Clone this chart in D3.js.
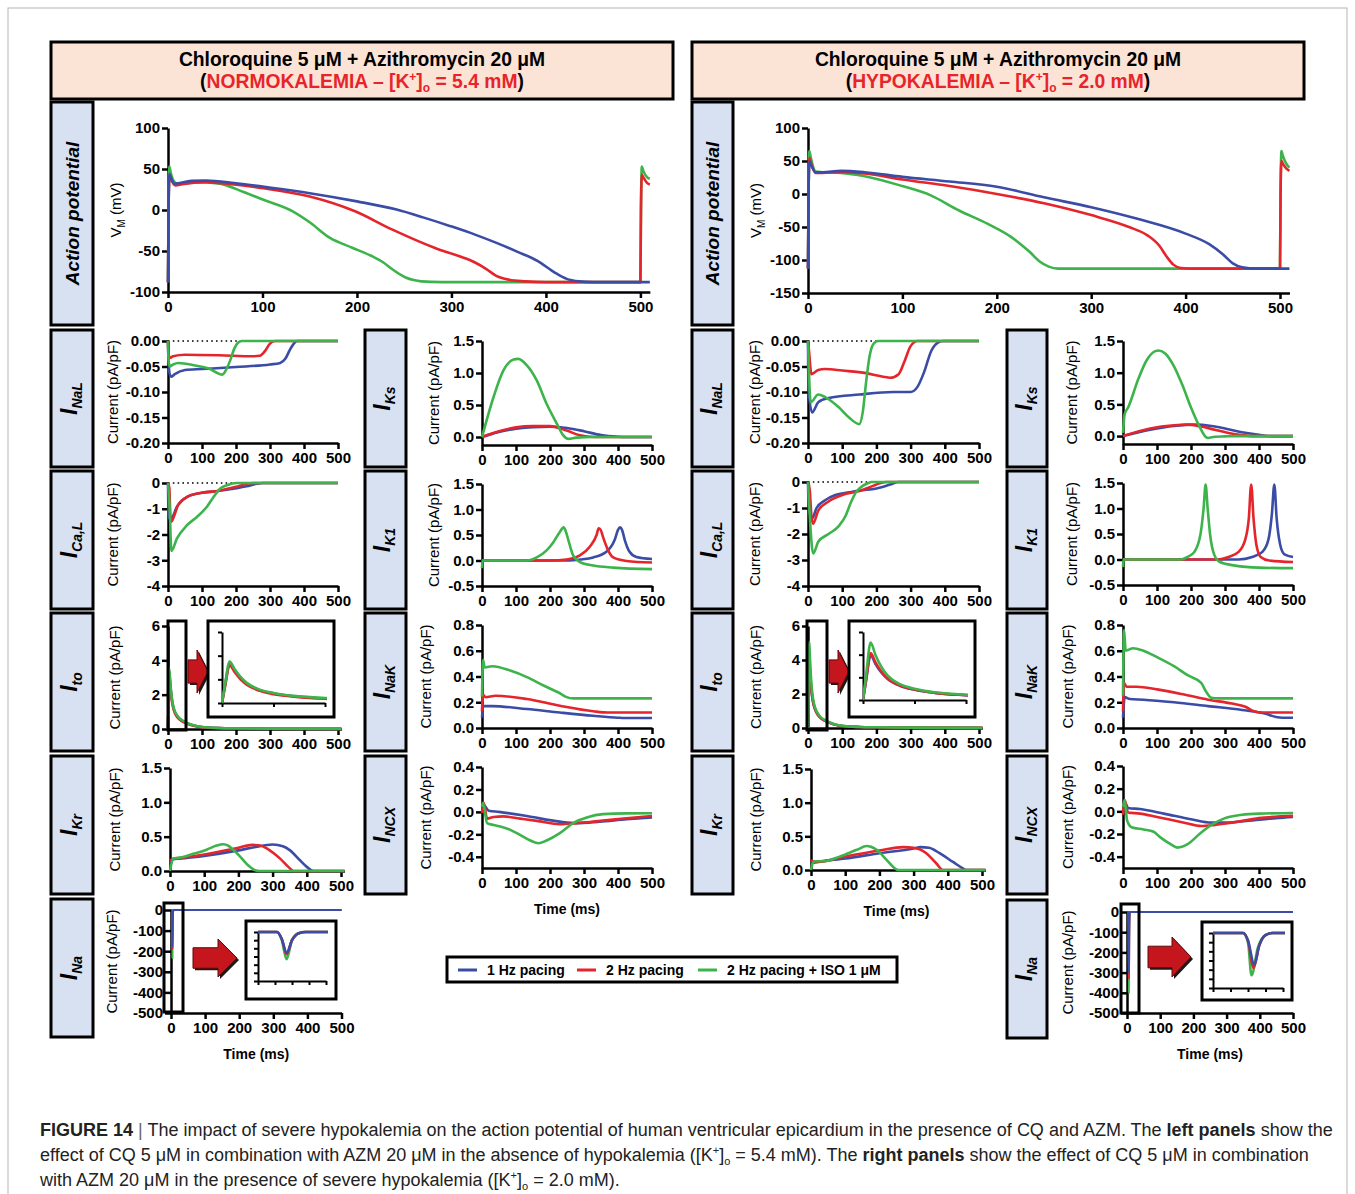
<!DOCTYPE html>
<html>
<head>
<meta charset="utf-8">
<script src="https://cdn.jsdelivr.net/npm/d3@7"></script>
<style>
body { margin: 0; background: #fff; }
svg text { font-family: "Liberation Sans", Arial, Helvetica, sans-serif; }
</style>
</head>
<body>
<div id="viz"></div>
<script>
// series: 1 Hz pacing, 2 Hz pacing, 2 Hz pacing + ISO 1 uM
var seriesNames = ["1 Hz pacing", "2 Hz pacing", "2 Hz pacing + ISO 1 μM"];
var colors = ["#3a4ca6", "#e4252b", "#3cb44b"];
var xTicks = [0, 100, 200, 300, 400, 500];

// ---------- NORMOKALEMIA ([K+]o = 5.4 mM) ----------
var apNorm = [
  [[0,-88],[0.6,0],[1.5,44],[3,40],[7,32],[12,33],[25,35.5],[40,36],[70,33],[100,28.5],[150,20.5],[200,10.5],[242,0.5],[270,-9],[299,-19.7],[325,-30],[347,-39.8],[370,-51],[391,-62],[409,-76],[422,-84],[435,-87],[450,-88],[510,-88]],
  [[0,-88],[0.6,0],[1.5,43],[3,38],[8,30],[15,31.5],[40,34],[70,31],[101,26.5],[150,16.5],[198,-1.6],[237,-23.7],[286,-47.8],[310,-57],[325,-64],[337,-72],[347,-80],[361,-85],[378,-87],[400,-88],[500,-88],[500.6,0],[501.5,43],[503,40],[507,33],[510,31]],
  [[0,-88],[0.6,0],[1.5,53],[3,45],[8,33],[12,32],[30,34],[53,32.5],[80,22],[101,12.5],[132,-1.6],[150,-15],[171,-33.7],[195,-46],[215,-55.8],[228,-64],[237,-72],[251,-82],[260,-85.5],[268,-87],[290,-88],[500,-88],[500.6,0],[501.5,53],[503,48],[507,40],[510,38]]
];
var iNaLNorm = [
  [[0,0],[1,-0.03],[5,-0.065],[10,-0.07],[20,-0.065],[50,-0.057],[100,-0.055],[200,-0.051],[300,-0.046],[330,-0.043],[345,-0.035],[358,-0.018],[370,-0.005],[380,0],[500,0]],
  [[0,0],[1,-0.02],[5,-0.033],[15,-0.03],[50,-0.027],[150,-0.028],[250,-0.03],[270,-0.029],[285,-0.02],[300,-0.005],[315,0],[500,0]],
  [[0,0],[1,-0.03],[5,-0.05],[15,-0.046],[30,-0.043],[80,-0.048],[120,-0.054],[160,-0.066],[172,-0.055],[183,-0.038],[195,-0.015],[205,-0.004],[217,0],[500,0]]
];
var iCaLNorm = [
  [[0,0],[1.5,-1.2],[5,-1.4],[10,-1.38],[26,-0.93],[56,-0.54],[95,-0.39],[144,-0.32],[192,-0.22],[231,-0.13],[261,-0.03],[280,0],[500,0]],
  [[0,0],[4,-0.2],[7,-1.3],[10,-1.5],[17,-1.32],[30,-0.85],[60,-0.52],[100,-0.38],[150,-0.3],[200,-0.15],[230,-0.04],[250,0],[500,0]],
  [[0,0],[5,-1],[10,-2.64],[26,-2.16],[56,-1.64],[85,-1.32],[114,-0.93],[134,-0.54],[153,-0.22],[173,-0.09],[202,0],[500,0]]
];
var iToNorm = [
  [[0,0],[1.5,1.5],[3.7,3.35],[6,2.8],[9,2.15],[12,1.65],[18,1.1],[25,0.8],[35,0.57],[50,0.38],[75,0.2],[100,0.11],[150,0.05],[200,0.03],[300,0.015],[510,0.01]],
  [[0,0],[1.5,1.4],[3.7,3.2],[6,2.65],[9,2.0],[12,1.55],[18,1.05],[25,0.75],[35,0.54],[50,0.36],[75,0.19],[100,0.1],[150,0.05],[200,0.03],[300,0.015],[510,0.01]],
  [[0,0],[1.5,1.6],[3.7,3.5],[6,2.9],[9,2.2],[12,1.7],[18,1.15],[25,0.85],[35,0.6],[50,0.42],[75,0.22],[100,0.12],[150,0.06],[200,0.04],[300,0.02],[510,0.01]]
];
var iKrNorm = [
  [[0,0.12],[10,0.17],[29,0.18],[100,0.22],[200,0.3],[250,0.35],[300,0.385],[330,0.36],[351,0.3],[380,0.156],[400,0.06],[419,0],[510,0]],
  [[0,0.15],[10,0.18],[29,0.19],[100,0.24],[200,0.34],[240,0.38],[260,0.375],[283,0.33],[305,0.25],[322,0.18],[346,0.06],[361,0],[510,0]],
  [[0,0],[3,0.08],[10,0.18],[29,0.195],[68,0.25],[107,0.31],[136,0.37],[156,0.39],[170,0.37],[180,0.33],[205,0.21],[229,0.08],[249,0.01],[260,0],[510,0]]
];
var iNaNorm = [
  [[0,0],[2.8,0],[3.5,-60],[4.2,-180],[5,-70],[6,-10],[7,0],[500,0]],
  [[0,0],[2.8,0],[3.5,-60],[4.2,-190],[5,-70],[6,-10],[7,0],[500,0]],
  [[0,0],[2.8,0],[3.5,-70],[4.2,-234],[5,-70],[6,-10],[7,0],[500,0]]
];
var iKsNorm = [
  [[0,0],[50,0.08],[100,0.13],[150,0.155],[200,0.16],[250,0.14],[300,0.09],[350,0.03],[400,0.005],[430,0],[500,0]],
  [[0,0],[50,0.09],[100,0.15],[150,0.17],[200,0.17],[249,0.1],[288,0.026],[330,0],[500,0]],
  [[0,0],[34,0.625],[63,1.04],[93,1.21],[107,1.22],[132,1.12],[161,0.885],[190,0.52],[220,0.21],[239,0.026],[254,-0.03],[278,-0.01],[327,0],[500,0]]
];
var iK1Norm = [
  [[0,0],[250,0],[290,0.02],[327,0.06],[366,0.17],[390,0.4],[400,0.6],[406,0.65],[412,0.6],[420,0.4],[434,0.17],[454,0.07],[500,0.03]],
  [[0,0],[200,0],[249,0.02],[288,0.1],[317,0.27],[337,0.5],[343,0.63],[349,0.6],[356,0.46],[371,0.2],[386,0.06],[425,-0.01],[500,-0.04]],
  [[0,-0.15],[1,0],[132,0],[161,0.06],[190,0.2],[210,0.36],[229,0.56],[240,0.65],[246,0.58],[254,0.4],[268,0.1],[288,-0.03],[327,-0.1],[386,-0.14],[500,-0.17]]
];
var iNaKNorm = [
  [[0,0.08],[3,0.17],[30,0.17],[132,0.147],[229,0.12],[327,0.095],[400,0.08],[420,0.078],[500,0.078]],
  [[0,0.13],[3,0.26],[10,0.24],[40,0.25],[132,0.225],[229,0.173],[327,0.13],[370,0.12],[500,0.12]],
  [[0,0.245],[3,0.53],[8,0.47],[30,0.48],[83,0.446],[132,0.395],[181,0.33],[229,0.27],[249,0.24],[268,0.23],[500,0.23]]
];
var iNCXNorm = [
  [[0,0],[5,0.06],[20,0.01],[50,0],[132,-0.037],[229,-0.087],[278,-0.1],[346,-0.087],[425,-0.066],[500,-0.05]],
  [[0,-0.01],[5,0.08],[15,-0.06],[34,-0.045],[63,-0.04],[112,-0.06],[161,-0.08],[229,-0.11],[278,-0.1],[327,-0.087],[425,-0.057],[500,-0.037]],
  [[0,0.046],[3,0.08],[15,-0.1],[34,-0.117],[54,-0.13],[83,-0.16],[112,-0.205],[142,-0.255],[166,-0.28],[190,-0.255],[229,-0.19],[268,-0.1],[308,-0.05],[356,-0.02],[425,-0.013],[500,-0.012]]
];

// ---------- HYPOKALEMIA ([K+]o = 2.0 mM) ----------
var apHypo = [
  [[0,-113],[0.6,0],[1.5,50],[3,45],[8,33],[15,33],[35,35],[60,33],[100,26],[150,19],[200,11],[250,-5],[300,-20],[350,-38],[400,-60],[425,-76],[440,-92],[450,-105],[460,-111],[475,-113],[510,-113]],
  [[0,-113],[0.6,0],[1.5,55],[3,48],[8,32],[15,32],[35,33],[60,31],[100,22],[150,12],[200,0],[250,-14],[300,-32],[340,-50],[360,-63],[372,-78],[380,-95],[387,-107],[395,-112],[410,-113],[500,-113],[500.6,0],[501.5,50],[503,46],[507,38],[510,35]],
  [[0,-113],[0.6,0],[1.5,65],[3,55],[8,34],[15,33],[35,32],[60,27],[100,12],[130,-2],[160,-25],[190,-45],[215,-65],[235,-88],[245,-102],[255,-110],[265,-113],[500,-113],[500.6,0],[501.5,65],[503,58],[507,45],[510,40]]
];
var iNaLHypo = [
  [[0,0],[1,-0.09],[12,-0.14],[30,-0.12],[60,-0.112],[150,-0.105],[250,-0.1],[300,-0.1],[320,-0.09],[340,-0.06],[360,-0.02],[380,-0.003],[395,0],[500,0]],
  [[0,0],[3,-0.02],[10,-0.065],[30,-0.057],[50,-0.055],[100,-0.058],[170,-0.063],[220,-0.07],[240,-0.072],[265,-0.065],[282,-0.04],[300,-0.01],[320,0],[500,0]],
  [[0,0],[8,-0.12],[30,-0.105],[50,-0.11],[90,-0.13],[120,-0.15],[150,-0.163],[160,-0.14],[170,-0.08],[180,-0.03],[192,-0.005],[205,0],[500,0]]
];
var iCaLHypo = [
  [[0,0],[2,-1.0],[12,-1.4],[25,-1.0],[50,-0.7],[80,-0.5],[120,-0.4],[150,-0.33],[200,-0.25],[240,-0.1],[265,0],[500,0]],
  [[0,0],[5,-0.3],[10,-1.3],[15,-1.6],[30,-1.1],[60,-0.75],[100,-0.5],[150,-0.35],[190,-0.15],[210,-0.05],[230,0],[500,0]],
  [[0,0],[6,-1.5],[15,-2.75],[30,-2.3],[60,-2.0],[90,-1.7],[110,-1.3],[125,-0.8],[140,-0.4],[160,-0.15],[175,-0.05],[185,0],[500,0]]
];
var iToHypo = [
  [[0,0],[1.5,1.7],[3.7,3.95],[6,3.2],[9,2.4],[12,1.85],[18,1.25],[25,0.9],[35,0.62],[50,0.42],[75,0.22],[100,0.12],[150,0.06],[200,0.04],[300,0.02],[510,0.01]],
  [[0,0],[1.5,1.8],[3.7,4.15],[6,3.35],[9,2.5],[12,1.9],[18,1.28],[25,0.92],[35,0.63],[50,0.43],[75,0.22],[100,0.12],[150,0.06],[200,0.04],[300,0.02],[510,0.01]],
  [[0,0],[1.5,2.2],[3.7,5.06],[6,4.0],[9,2.9],[12,2.15],[18,1.4],[25,1.0],[35,0.68],[50,0.46],[75,0.24],[100,0.13],[150,0.06],[200,0.04],[300,0.02],[510,0.01]]
];
var iKrHypo = [
  [[0,0.1],[20,0.12],[100,0.17],[200,0.25],[300,0.32],[320,0.34],[345,0.33],[376,0.25],[415,0.12],[444,0.025],[453,0],[510,0]],
  [[0,0.15],[5,0.13],[20,0.12],[100,0.2],[200,0.29],[270,0.34],[300,0.33],[337,0.25],[366,0.1],[386,0],[510,0]],
  [[0,0],[5,0.1],[10,0.13],[37,0.13],[85,0.2],[134,0.3],[163,0.356],[175,0.345],[192,0.3],[221,0.15],[245,0.025],[255,0],[510,0]]
];
var iNaHypo = [
  [[0,0],[4.3,0],[5,-70],[5.9,-300],[6.6,-120],[7.5,-20],[8.5,0],[500,0]],
  [[0,0],[4.3,0],[5,-75],[5.8,-330],[6.6,-120],[7.5,-20],[8.5,0],[500,0]],
  [[0,0],[4.3,0],[5,-90],[5.5,-400],[6.4,-140],[7.5,-20],[8.5,0],[500,0]]
];
var iKsHypo = [
  [[0,0],[80,0.1],[150,0.16],[210,0.18],[260,0.16],[300,0.12],[350,0.06],[400,0.02],[440,0],[500,0]],
  [[0,0],[80,0.12],[150,0.17],[190,0.18],[230,0.15],[270,0.1],[310,0.05],[350,0.015],[380,0],[500,0]],
  [[0,0.05],[5,0.35],[15,0.45],[45,0.9],[70,1.2],[95,1.34],[105,1.35],[125,1.3],[150,1.1],[175,0.8],[200,0.45],[225,0.15],[245,-0.02],[250,-0.03],[270,-0.01],[300,-0.005],[330,0],[500,0]]
];
var iK1Hypo = [
  [[0,0],[340,0],[380,0.05],[410,0.15],[428,0.4],[438,0.9],[445,1.47],[452,0.8],[462,0.3],[475,0.1],[500,0.05]],
  [[0,0],[280,0],[310,0.05],[340,0.15],[360,0.4],[370,0.8],[377,1.47],[384,0.8],[392,0.3],[405,0.05],[430,-0.02],[500,-0.05]],
  [[0,-0.15],[1,0],[170,0],[190,0.05],[210,0.15],[228,0.5],[237,1.0],[243,1.47],[249,1.0],[256,0.5],[268,0.1],[285,-0.05],[330,-0.12],[400,-0.16],[500,-0.17]]
];
var iNaKHypo = [
  [[0,0.08],[5,0.24],[20,0.225],[60,0.22],[150,0.2],[250,0.17],[350,0.14],[420,0.11],[450,0.085],[470,0.08],[500,0.08]],
  [[0,0.13],[3,0.35],[10,0.32],[40,0.32],[100,0.3],[180,0.26],[250,0.22],[320,0.19],[360,0.165],[385,0.13],[410,0.12],[500,0.12]],
  [[0,0.25],[3,0.76],[8,0.6],[30,0.62],[60,0.6],[100,0.55],[150,0.48],[190,0.41],[230,0.35],[245,0.28],[260,0.235],[280,0.23],[500,0.23]]
];
var iNCXHypo = [
  [[0,0],[5,0.08],[15,0.03],[50,0.02],[120,-0.02],[200,-0.07],[260,-0.1],[300,-0.1],[380,-0.08],[450,-0.06],[500,-0.05]],
  [[0,-0.03],[5,0.1],[15,-0.01],[50,-0.02],[100,-0.05],[180,-0.1],[230,-0.13],[270,-0.12],[320,-0.1],[400,-0.06],[500,-0.04]],
  [[0,0.04],[5,0.1],[12,-0.08],[25,-0.14],[60,-0.16],[90,-0.18],[110,-0.23],[140,-0.29],[160,-0.32],[190,-0.29],[225,-0.2],[260,-0.12],[300,-0.06],[350,-0.03],[400,-0.02],[500,-0.015]]
];

// tick values
var apTicksNorm = [-100, -50, 0, 50, 100];
var apTicksHypo = [-150, -100, -50, 0, 50, 100];
var iNaLTicks = [-0.2, -0.15, -0.1, -0.05, 0];
var iCaLTicks = [-4, -3, -2, -1, 0];
var iToTicks = [0, 2, 4, 6];
var iKTicks = [0, 0.5, 1, 1.5];
var iK1Ticks = [-0.5, 0, 0.5, 1, 1.5];
var iNaKTicks = [0, 0.2, 0.4, 0.6, 0.8];
var iNCXTicks = [-0.4, -0.2, 0, 0.2, 0.4];
var iNaTicks = [-500, -400, -300, -200, -100, 0];

var f0 = function(d) { return d.toFixed(0); };
var f1 = function(d) { return d.toFixed(1); };
var f2 = function(d) { return d.toFixed(2); };

var svg = d3.select("#viz").append("svg")
  .attr("width", 1355).attr("height", 1194)
  .style("background", "#fff");

// outer frame
svg.append("rect").attr("x", 8).attr("y", 8).attr("width", 1339).attr("height", 1220)
  .style("fill", "none").style("stroke", "#b5b5b5").style("stroke-width", 1);

var clipId = 0;

function styleAxis(g, size) {
  g.select(".domain").style("stroke", "#000").style("stroke-width", 2.5);
  g.selectAll(".tick line").style("stroke", "#000").style("stroke-width", 2.5);
  g.selectAll(".tick text").style("font-size", (size || 15) + "px").style("font-weight", "bold").style("fill", "#000");
}

function panel(o) {
  var g = svg.append("g");
  var xmax = o.xmax || 500;
  var x = d3.scaleLinear().domain([0, xmax]).range([o.x0, o.x0 + (o.x500 - o.x0) * xmax / 500]);
  var y = d3.scaleLinear().domain(o.ydom).range([o.yb, o.yt]);

  if (o.dots) {
    g.append("line").attr("x1", x(0)).attr("x2", x(500)).attr("y1", y(0)).attr("y2", y(0))
      .style("stroke", "#000").style("stroke-width", 1.6).style("stroke-dasharray", "1.6,3.2");
  }

  var gy = g.append("g").attr("transform", "translate(" + o.x0 + ",0)")
    .call(d3.axisLeft(y).tickValues(o.yticks).tickFormat(o.fmt).tickSize(6).tickSizeOuter(0).tickPadding(2));
  styleAxis(gy);
  var gx = g.append("g").attr("transform", "translate(0," + o.yb + ")")
    .call(d3.axisBottom(x).tickValues(xTicks).tickFormat(f0).tickSize(6).tickSizeOuter(0).tickPadding(3));
  styleAxis(gx);

  var line = d3.line().x(function(d) { return x(d[0]); }).y(function(d) { return y(d[1]); })
    .curve(d3.curveMonotoneX);
  (o.order || [0, 1, 2]).forEach(function(i) {
    g.append("path").datum(o.data[i]).attr("d", line)
      .style("fill", "none").style("stroke", colors[i])
      .style("stroke-width", o.lw || 2.6).style("stroke-linejoin", "round");
  });

  // y label
  var t = g.append("text")
    .attr("transform", "translate(" + o.lx + "," + ((o.yt + o.yb) / 2) + ") rotate(-90)")
    .attr("text-anchor", "middle").attr("dy", "0.35em")
    .style("font-size", "15px");
  if (o.vm) {
    t.append("tspan").text("V");
    t.append("tspan").attr("dy", 4).style("font-size", "10px").text("M");
    t.append("tspan").attr("dy", -4).text(" (mV)");
  } else {
    t.text("Current (pA/pF)");
  }
  if (o.timeLabel) {
    g.append("text").attr("x", (o.x0 + o.x500) / 2).attr("y", o.yb + 46)
      .attr("text-anchor", "middle").style("font-size", "14px").style("font-weight", "bold")
      .text("Time (ms)");
  }
  return { x: x, y: y, g: g };
}

// magnified inset with a zoom box and arrow
function inset(p, o) {
  var g = p.g;
  g.append("rect").attr("x", o.zoom[0]).attr("y", o.zoom[1])
    .attr("width", o.zoom[2] - o.zoom[0]).attr("height", o.zoom[3] - o.zoom[1])
    .style("fill", "none").style("stroke", "#000").style("stroke-width", 3);
  var a = o.arrow; // x0, y0, x1, y1, shaft end
  var midY = (a[1] + a[3]) / 2, sh = (a[3] - a[1]) * 0.27;
  var pts = [[a[0], midY - sh], [a[4], midY - sh], [a[4], a[1]], [a[2], midY], [a[4], a[3]], [a[4], midY + sh], [a[0], midY + sh]];
  g.append("polygon").attr("points", pts.map(function(q) { return (q[0] + 2) + "," + (q[1] + 2); }).join(" "))
    .style("fill", "#1a1a1a");
  g.append("polygon").attr("points", pts.map(function(q) { return q.join(","); }).join(" "))
    .style("fill", "#c4161c").style("stroke", "#5a0a0a").style("stroke-width", 1);
  g.append("rect").attr("x", o.box[0]).attr("y", o.box[1])
    .attr("width", o.box[2] - o.box[0]).attr("height", o.box[3] - o.box[1])
    .style("fill", "#fff").style("stroke", "#000").style("stroke-width", 3);
  var x = d3.scaleLinear().domain(o.xdom).range([o.ax[0], o.ax[2]]);
  var y = d3.scaleLinear().domain(o.ydom).range([o.ax[3], o.ax[1]]);
  var gy = g.append("g").attr("transform", "translate(" + o.ax[0] + ",0)")
    .call(d3.axisLeft(y).tickValues(d3.range(o.ny + 1).map(function(i) { return o.ydom[0] + i * (o.ydom[1] - o.ydom[0]) / o.ny; }))
      .tickFormat("").tickSize(4).tickSizeOuter(0));
  var gx = g.append("g").attr("transform", "translate(0," + o.ax[3] + ")")
    .call(d3.axisBottom(x).tickValues(d3.range(o.nx + 1).map(function(i) { return o.xdom[0] + i * (o.xdom[1] - o.xdom[0]) / o.nx; }))
      .tickFormat("").tickSize(4).tickSizeOuter(0));
  [gx, gy].forEach(function(ax) {
    ax.select(".domain").style("stroke", "#000").style("stroke-width", 2);
    ax.selectAll(".tick line").style("stroke", "#000").style("stroke-width", 2);
  });
  var id = "clip" + (clipId++);
  svg.append("clipPath").attr("id", id).append("rect")
    .attr("x", o.ax[0]).attr("y", o.ax[1] - 6).attr("width", o.ax[2] - o.ax[0] + 2).attr("height", o.ax[3] - o.ax[1] + 8);
  var line = d3.line().x(function(d) { return x(d[0]); }).y(function(d) { return y(d[1]); }).curve(d3.curveMonotoneX);
  o.order.forEach(function(i) {
    g.append("path").datum(o.data[i]).attr("d", line).attr("clip-path", "url(#" + id + ")")
      .style("fill", "none").style("stroke", colors[i]).style("stroke-width", 2.6);
  });
}

function labelBox(x0, y0, x1, y1, main, sub) {
  svg.append("rect").attr("x", x0).attr("y", y0).attr("width", x1 - x0).attr("height", y1 - y0)
    .style("fill", "#d7e1f1").style("stroke", "#000").style("stroke-width", 3);
  var t = svg.append("text")
    .attr("transform", "translate(" + ((x0 + x1) / 2) + "," + ((y0 + y1) / 2) + ") rotate(-90)")
    .attr("text-anchor", "middle").attr("dy", sub ? "0.3em" : "0.36em")
    .style("font-weight", "bold").style("font-style", "italic");
  if (sub) {
    t.append("tspan").style("font-size", "23px").text(main);
    t.append("tspan").attr("dy", 5).style("font-size", "14px").text(sub);
  } else {
    t.style("font-size", "19px").text(main);
  }
}

function header(x0, x1, word, k) {
  svg.append("rect").attr("x", x0).attr("y", 42).attr("width", x1 - x0).attr("height", 57)
    .style("fill", "#fbe3d5").style("stroke", "#000").style("stroke-width", 3);
  var cx = (x0 + x1) / 2;
  svg.append("text").attr("x", cx).attr("y", 66).attr("text-anchor", "middle")
    .style("font-size", "19.3px").style("font-weight", "bold")
    .text("Chloroquine 5 μM + Azithromycin 20 μM");
  var t = svg.append("text").attr("x", cx).attr("y", 88).attr("text-anchor", "middle")
    .style("font-size", "19.3px").style("font-weight", "bold");
  var red = "#e8242a";
  t.append("tspan").text("(");
  t.append("tspan").style("fill", red).text(word + " – [K");
  t.append("tspan").style("fill", red).attr("dy", -7).style("font-size", "12px").text("+");
  t.append("tspan").style("fill", red).attr("dy", 7).text("]");
  t.append("tspan").style("fill", red).attr("dy", 4).style("font-size", "12px").text("o");
  t.append("tspan").style("fill", red).attr("dy", -4).text(" = " + k + " mM");
  t.append("tspan").text(")");
}

// ---------------- headers ----------------
header(51, 673, "NORMOKALEMIA", "5.4");
header(692, 1304, "HYPOKALEMIA", "2.0");

// ---------------- label boxes ----------------
var rowsA = [[330, 467, "NaL"], [471, 609, "Ca,L"], [613, 751, "to"], [756, 894, "Kr"]];
var rowsB = [[330, 467, "Ks"], [471, 609, "K1"], [613, 751, "NaK"], [756, 894, "NCX"]];
labelBox(51, 102, 93, 325, "Action potential");
labelBox(692, 102, 733, 325, "Action potential");
rowsA.forEach(function(r) { labelBox(51, r[0], 93, r[1], "I", r[2]); labelBox(692, r[0], 733, r[1], "I", r[2]); });
rowsB.forEach(function(r) { labelBox(365, r[0], 406, r[1], "I", r[2]); labelBox(1007, r[0], 1047, r[1], "I", r[2]); });
labelBox(51, 899, 93, 1037, "I", "Na");
labelBox(1007, 900, 1047, 1038, "I", "Na");

var apOrder = [2, 1, 0], curOrder = [0, 1, 2];

// ---------------- left half (normokalemia) ----------------
panel({ x0: 168, x500: 640.4, xmax: 510, yt: 128, yb: 292, ydom: [-100, 100], yticks: apTicksNorm, fmt: f0, data: apNorm, order: apOrder, lx: 116, vm: true });
panel({ x0: 168, x500: 338, yt: 341, yb: 443, ydom: [-0.2, 0], yticks: iNaLTicks, fmt: f2, data: iNaLNorm, order: curOrder, lx: 113, dots: true });
panel({ x0: 168, x500: 338, yt: 483, yb: 586, ydom: [-4, 0], yticks: iCaLTicks, fmt: f0, data: iCaLNorm, order: curOrder, lx: 113, dots: true });
var pToN = panel({ x0: 168, x500: 338, xmax: 510, yt: 626, yb: 729, ydom: [0, 6], yticks: iToTicks, fmt: f0, data: iToNorm, order: curOrder, lx: 115 });
panel({ x0: 170, x500: 341, xmax: 510, yt: 768, yb: 871, ydom: [0, 1.5], yticks: iKTicks, fmt: f1, data: iKrNorm, order: curOrder, lx: 115 });
var pNaN = panel({ x0: 171, x500: 341.5, yt: 910, yb: 1013, ydom: [-500, 0], yticks: iNaTicks, fmt: f0, data: iNaNorm, order: apOrder, lx: 112, lw: 2, timeLabel: true });
panel({ x0: 482, x500: 652, yt: 341, yb: 445, ydom: [-0.125, 1.5], yticks: iKTicks, fmt: f1, data: iKsNorm, order: curOrder, lx: 434 });
panel({ x0: 482, x500: 652, yt: 484, yb: 586, ydom: [-0.5, 1.5], yticks: iK1Ticks, fmt: f1, data: iK1Norm, order: curOrder, lx: 434 });
panel({ x0: 482, x500: 652, yt: 625, yb: 728, ydom: [0, 0.8], yticks: iNaKTicks, fmt: f1, data: iNaKNorm, order: curOrder, lx: 426 });
panel({ x0: 482, x500: 652, yt: 767, yb: 868, ydom: [-0.5, 0.4], yticks: iNCXTicks, fmt: f1, data: iNCXNorm, order: curOrder, lx: 426, timeLabel: true });

inset(pToN, { zoom: [168, 621, 186, 730], arrow: [188, 650, 208, 693, 197], box: [208, 621, 334, 717],
  ax: [222, 632, 325, 703], xdom: [0, 50], ydom: [0, 6], nx: 2, ny: 3, data: iToNorm, order: curOrder });
inset(pNaN, { zoom: [164, 903, 183, 1012], arrow: [193, 939, 237, 977, 218], box: [246, 921, 336, 999],
  ax: [258, 932, 326, 981], xdom: [0, 10], ydom: [-420, 0], nx: 4, ny: 6, data: iNaNorm, order: apOrder });

// ---------------- right half (hypokalemia) ----------------
panel({ x0: 808, x500: 1280, xmax: 510, yt: 128, yb: 293, ydom: [-150, 100], yticks: apTicksHypo, fmt: f0, data: apHypo, order: apOrder, lx: 756, vm: true });
panel({ x0: 808, x500: 979, yt: 341, yb: 443, ydom: [-0.2, 0], yticks: iNaLTicks, fmt: f2, data: iNaLHypo, order: curOrder, lx: 755, dots: true });
panel({ x0: 808, x500: 979, yt: 482, yb: 586, ydom: [-4, 0], yticks: iCaLTicks, fmt: f0, data: iCaLHypo, order: curOrder, lx: 755, dots: true });
var pToH = panel({ x0: 808, x500: 979, xmax: 510, yt: 626, yb: 728, ydom: [0, 6], yticks: iToTicks, fmt: f0, data: iToHypo, order: curOrder, lx: 756 });
panel({ x0: 811, x500: 982, xmax: 510, yt: 769, yb: 870, ydom: [0, 1.5], yticks: iKTicks, fmt: f1, data: iKrHypo, order: curOrder, lx: 756, timeLabel: true });
panel({ x0: 1123, x500: 1293, yt: 341, yb: 444, ydom: [-0.125, 1.5], yticks: iKTicks, fmt: f1, data: iKsHypo, order: curOrder, lx: 1072 });
panel({ x0: 1123, x500: 1293, yt: 483, yb: 585, ydom: [-0.5, 1.5], yticks: iK1Ticks, fmt: f1, data: iK1Hypo, order: curOrder, lx: 1072 });
panel({ x0: 1123, x500: 1293, yt: 625, yb: 728, ydom: [0, 0.8], yticks: iNaKTicks, fmt: f1, data: iNaKHypo, order: curOrder, lx: 1068 });
panel({ x0: 1123, x500: 1293, yt: 766, yb: 868, ydom: [-0.5, 0.4], yticks: iNCXTicks, fmt: f1, data: iNCXHypo, order: curOrder, lx: 1068 });
var pNaH = panel({ x0: 1127, x500: 1293, yt: 912, yb: 1013, ydom: [-500, 0], yticks: iNaTicks, fmt: f0, data: iNaHypo, order: apOrder, lx: 1068, lw: 2, timeLabel: true });

inset(pToH, { zoom: [807, 621, 827, 730], arrow: [829, 650, 849, 693, 838], box: [849, 621, 975, 717],
  ax: [863, 632, 966, 700], xdom: [0, 50], ydom: [0, 6], nx: 2, ny: 3, data: iToHypo, order: curOrder });
inset(pNaH, { zoom: [1121, 904, 1139, 1013], arrow: [1148, 937, 1191, 977, 1172], box: [1202, 922, 1292, 1000],
  ax: [1213, 933, 1283, 988], xdom: [0, 10], ydom: [-520, 0], nx: 4, ny: 6, data: iNaHypo, order: apOrder });

// ---------------- legend ----------------
var legend = svg.append("g");
legend.append("rect").attr("x", 447).attr("y", 957).attr("width", 450).attr("height", 25)
  .style("fill", "#fff").style("stroke", "#000").style("stroke-width", 3);
var legX = [458, 577, 698];
seriesNames.forEach(function(name, i) {
  legend.append("line").attr("x1", legX[i]).attr("x2", legX[i] + 19).attr("y1", 970).attr("y2", 970)
    .style("stroke", colors[i]).style("stroke-width", 3);
  legend.append("text").attr("x", legX[i] + 29).attr("y", 975).style("font-size", "14px")
    .style("font-weight", "bold").text(name);
});

// ---------------- caption ----------------
var cap = svg.append("g").style("font-size", "18px").style("fill", "#222");
var l1 = cap.append("text").attr("x", 40).attr("y", 1136);
l1.append("tspan").style("font-weight", "bold").text("FIGURE 14");
l1.append("tspan").style("fill", "#666").text(" | ");
l1.append("tspan").text("The impact of severe hypokalemia on the action potential of human ventricular epicardium in the presence of CQ and AZM. The ");
l1.append("tspan").style("font-weight", "bold").text("left panels");
l1.append("tspan").text(" show the");

var l2 = cap.append("text").attr("x", 40).attr("y", 1161);
l2.append("tspan").text("effect of CQ 5 μM in combination with AZM 20 μM in the absence of hypokalemia ([K");
l2.append("tspan").attr("dy", -7).style("font-size", "11px").text("+");
l2.append("tspan").attr("dy", 7).text("]");
l2.append("tspan").attr("dy", 4).style("font-size", "11px").text("o");
l2.append("tspan").attr("dy", -4).text(" = 5.4 mM). The ");
l2.append("tspan").style("font-weight", "bold").text("right panels");
l2.append("tspan").text(" show the effect of CQ 5 μM in combination");

var l3 = cap.append("text").attr("x", 40).attr("y", 1186);
l3.append("tspan").text("with AZM 20 μM in the presence of severe hypokalemia ([K");
l3.append("tspan").attr("dy", -7).style("font-size", "11px").text("+");
l3.append("tspan").attr("dy", 7).text("]");
l3.append("tspan").attr("dy", 4).style("font-size", "11px").text("o");
l3.append("tspan").attr("dy", -4).text(" = 2.0 mM).");
</script>
</body>
</html>
